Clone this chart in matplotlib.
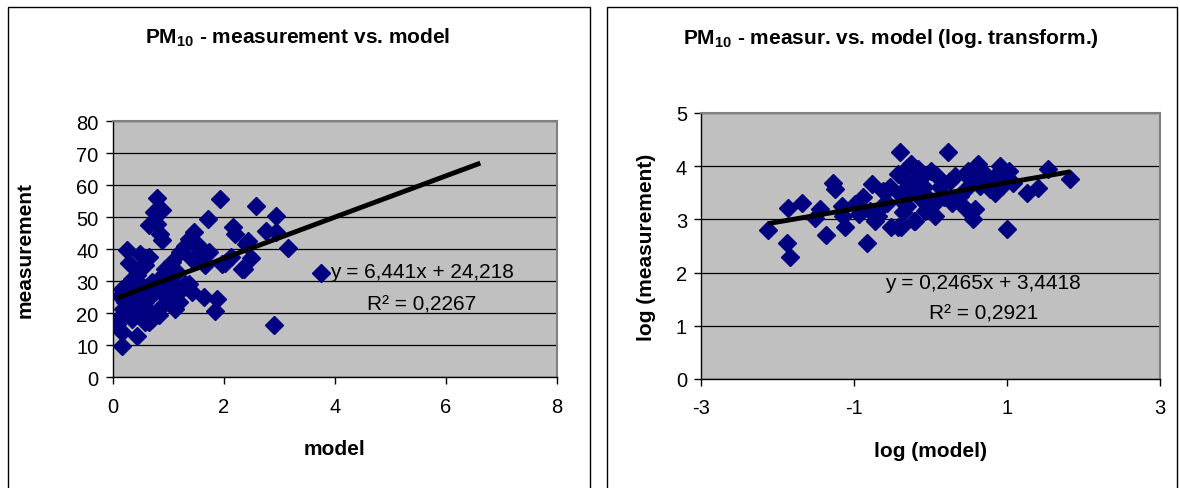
import numpy as np
import matplotlib
matplotlib.use('Agg')
import matplotlib.pyplot as plt
from matplotlib.patches import Rectangle

plt.rcParams['font.family'] = ['Liberation Sans', 'DejaVu Sans']
plt.rcParams['mathtext.fontset'] = 'custom'
plt.rcParams['mathtext.bf'] = 'Liberation Sans:bold'
plt.rcParams['mathtext.rm'] = 'Liberation Sans:bold'
plt.rcParams['mathtext.default'] = 'bf'
plt.rcParams['axes.unicode_minus'] = False

model = [0.80, 0.74, 0.89, 0.65, 0.80, 0.86, 0.89, 1.94, 1.71, 2.16, 2.21, 2.41,
         2.33, 1.97, 0.26, 0.29, 0.50, 0.65, 1.46, 1.37, 1.55, 1.31, 1.22, 1.73,
         1.67, 1.43, 1.55, 1.07, 0.98, 1.16, 1.37, 1.43, 1.64, 1.88, 1.85, 1.13,
         1.10, 0.95, 0.89, 0.77, 0.83, 0.68, 0.65, 0.59, 0.53, 0.44, 0.17, 0.14,
         0.19, 0.17, 0.08, 0.17, 0.17, 0.35, 0.44, 0.50, 0.59, 0.32, 0.41, 0.29,
         0.47, 0.35, 0.59, 0.71, 0.53, 0.71, 0.83, 0.95, 1.01, 1.13, 1.31, 1.19,
         1.01, 1.19, 0.86, 0.68, 0.23, 0.26, 0.47, 0.62, 2.58, 2.94, 2.76, 2.94,
         2.43, 3.15, 2.49, 2.37, 2.13, 3.75, 2.91, 2.02]
measurement = [55.9, 51.6, 52.1, 47.4, 47.9, 44.8, 42.7, 55.5, 49.3, 46.9, 44.8, 41.7,
               33.8, 35.4, 39.6, 35.7, 38.5, 37.5, 45.3, 43.2, 41.1, 41.1, 39.1, 39.1,
               34.9, 37.0, 38.5, 35.9, 33.8, 32.8, 29.2, 26.6, 25.0, 24.5, 20.8, 21.3,
               23.4, 25.5, 22.4, 26.6, 19.3, 20.3, 17.2, 23.4, 21.3, 13.0, 27.6, 25.5,
               21.3, 19.3, 16.7, 14.1, 9.9, 30.7, 31.8, 33.8, 34.9, 25.5, 23.4, 22.4,
               19.3, 18.2, 17.2, 18.2, 28.6, 29.7, 30.7, 33.8, 30.7, 28.6, 29.2, 26.6,
               24.5, 23.4, 27.6, 25.5, 23.4, 28.6, 26.6, 28.1, 53.4, 50.5, 45.8, 45.3,
               42.4, 40.3, 37.2, 33.8, 37.5, 32.6, 16.3, 35.7]

# log. transform.
log_model = [-0.40, -2.12, -1.87, -1.84, -1.86, -1.68, -1.36, -1.44, -1.51, -1.28,
             -1.25, -1.16, -1.14, -1.12, -0.83, -0.77, -0.99, -0.88, -0.93, -0.79,
             -0.73, -0.68, -0.62, -0.53, -0.57, -0.64, -0.51, -0.42, -0.42, -0.31,
             -0.22, -0.16, -0.22, -0.29, -0.40, -0.31, -0.22, -0.36, -0.12, -0.05,
             0.23, -0.25, -0.16, -0.14, -0.20, -0.29, -0.33, -0.20, -0.38, -0.05,
             0.04, 0.06, -0.07, -0.09, 0.12, 0.17, 0.28, 0.25, 0.32, 0.49,
             0.62, 0.71, 0.45, 0.58, 0.56, 0.39, 0.47, 0.65, 0.78, 0.82,
             0.91, 1.02, 0.89, 1.08, 1.00, 1.26, 1.41, 1.54, 1.82, 1.00,
             0.73, 0.65, 0.84, 0.93, 0.52, 0.08, 0.01]
log_measurement = [4.26, 2.80, 2.56, 2.30, 3.22, 3.31, 2.71, 3.19, 3.03, 3.69,
                   3.56, 3.25, 3.06, 2.86, 2.55, 3.66, 3.28, 3.41, 3.10, 3.16,
                   2.97, 3.06, 3.53, 3.60, 3.31, 3.25, 2.86, 2.86, 3.85, 3.97,
                   3.94, 3.78, 3.56, 3.69, 3.47, 3.25, 2.97, 3.13, 3.38, 3.19,
                   4.26, 4.03, 3.94, 3.75, 3.66, 3.50, 3.28, 2.97, 2.86, 3.41,
                   3.28, 3.06, 3.16, 3.60, 3.60, 3.41, 3.31, 3.72, 3.81, 3.91,
                   4.03, 3.85, 3.22, 3.19, 3.01, 3.44, 3.56, 3.63, 3.56, 3.78,
                   4.00, 3.91, 3.72, 3.69, 3.75, 3.49, 3.58, 3.95, 3.75, 2.81,
                   3.69, 3.81, 3.50, 3.63, 3.75, 3.81, 3.91]

# lineas de tendencia (Excel)
trend_lin = {'a': 6.441, 'b': 24.218, 'r2': '0,2267', 'x0': 0.08, 'x1': 6.62,
             'eq': 'y = 6,441x + 24,218'}
trend_log = {'a': 0.2465, 'b': 3.4418, 'r2': '0,2921', 'x0': -2.12, 'x1': 1.83,
             'eq': 'y = 0,2465x + 3,4418'}

fig = plt.figure(figsize=(11.8, 4.89), dpi=100)

# marcos de los graficos
fig.add_artist(Rectangle((8 / 1180, -0.01), (590 - 8) / 1180, 1 - 8 / 489 + 0.01,
                         transform=fig.transFigure, fill=False, ec='black', lw=1))
fig.add_artist(Rectangle((607 / 1180, -0.01), (1177 - 607) / 1180, 1 - 8 / 489 + 0.01,
                         transform=fig.transFigure, fill=False, ec='black', lw=1))

ax1 = fig.add_axes([112.5 / 1180, (489 - 378.3) / 489, 444.5 / 1180, 256.3 / 489])
ax2 = fig.add_axes([701 / 1180, (489 - 380) / 489, 459 / 1180, 266.2 / 489])


def style(ax, xticks, yticks):
    ax.set_facecolor('#C0C0C0')
    ax.set_xlim(xticks[0], xticks[-1])
    ax.set_ylim(yticks[0], yticks[-1])
    ax.set_xticks(xticks)
    ax.set_yticks(yticks)
    ax.yaxis.grid(True, color='black', lw=0.9)
    ax.set_axisbelow(True)
    for s in ['top', 'right']:
        ax.spines[s].set_color('#808080')
        ax.spines[s].set_linewidth(1.5)
    for s in ['left', 'bottom']:
        ax.spines[s].set_color('black')
        ax.spines[s].set_linewidth(1)
    ax.tick_params(direction='out', length=5, width=1, labelsize=14.5)
    ax.tick_params(axis='x', pad=9)
    ax.tick_params(axis='y', pad=5)


style(ax1, [0, 2, 4, 6, 8], [0, 10, 20, 30, 40, 50, 60, 70, 80])
style(ax2, [-3, -1, 1, 3], [0, 1, 2, 3, 4, 5])

ax1.plot(model, measurement, 'D', color='#000080', ms=8.8, mec='#000080', zorder=3)
xl = np.array([trend_lin['x0'], trend_lin['x1']])
ax1.plot(xl, trend_lin['a'] * xl + trend_lin['b'], color='black', lw=3.5, zorder=4,
         solid_capstyle='butt')
ax1.text(5.57, 32.9, trend_lin['eq'], fontsize=15, ha='center', va='center', zorder=5)
ax1.text(5.57, 22.9, 'R² = ' + trend_lin['r2'], fontsize=15, ha='center', va='center', zorder=5)

ax2.plot(log_model, log_measurement, 'D', color='#000080', ms=8.8, mec='#000080', zorder=3)
xl = np.array([trend_log['x0'], trend_log['x1']])
ax2.plot(xl, trend_log['a'] * xl + trend_log['b'], color='black', lw=3.5, zorder=4,
         solid_capstyle='butt')
ax2.text(0.69, 1.82, trend_log['eq'], fontsize=15, ha='center', va='center', zorder=5)
ax2.text(0.69, 1.24, 'R² = ' + trend_log['r2'], fontsize=15, ha='center', va='center', zorder=5)

ax1.set_xlabel('model', fontsize=15, fontweight='bold', labelpad=17)
ax1.set_ylabel('measurement', fontsize=15, fontweight='bold', labelpad=30)
ax2.set_xlabel('log (model)', fontsize=15, fontweight='bold', labelpad=17)
ax2.set_ylabel('log (measurement)', fontsize=15, fontweight='bold', labelpad=14)

fig.text(298 / 1180, 1 - 38 / 489, r'PM$_{10}$ - measurement vs. model', fontsize=15,
         fontweight='bold', ha='center', va='center')
fig.text(891 / 1180, 1 - 38 / 489, r'PM$_{10}$ - measur. vs. model (log. transform.)',
         fontsize=15, fontweight='bold', ha='center', va='center')

fig.savefig('out.png', dpi=100)
